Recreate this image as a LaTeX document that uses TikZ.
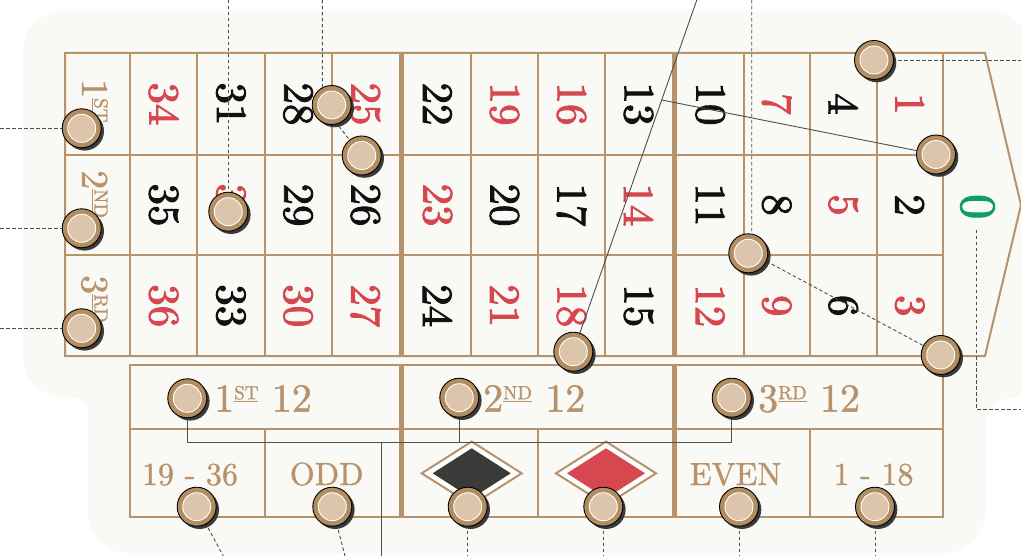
\documentclass[tikz,border=0pt]{standalone}
\usepackage{fontspec}
\newfontfamily\numff{lmroman10-regular.otf}[FakeBold=2.2]
\newfontfamily\lblff{lmroman10-regular.otf}[FakeBold=1.1]
\usetikzlibrary{shadows,calc}
\definecolor{bgc}{HTML}{F9F9F5}
\definecolor{tanc}{HTML}{B8926A}
\definecolor{rd}{HTML}{D6474F}
\definecolor{bk}{HTML}{111111}
\definecolor{grn}{HTML}{0E9E63}
\definecolor{chipring}{HTML}{B38D62}
\definecolor{chipin}{HTML}{DCC5AA}
\definecolor{shad}{HTML}{303030}
\definecolor{lnc}{HTML}{4F4F4F}
\definecolor{diablk}{HTML}{3A3A38}
\pgfdeclarelayer{lines}\pgfdeclarelayer{chips}
\pgfsetlayers{main,lines,chips}
\newcommand{\supul}[1]{\raisebox{12.5pt}{\fontsize{19}{19}\selectfont\setbox0\hbox{#1}\rlap{\rule[-2.6pt]{\wd0}{0.9pt}}\box0}}
\begin{document}
\begin{tikzpicture}[x=1pt,y=-1pt,
  chip/.style={circle,minimum size=39pt,inner sep=0pt,fill=chipring,draw=black,line width=0.9pt,
    drop shadow={shadow xshift=2.8pt,shadow yshift=-2.8pt,fill=shad,opacity=0.95},
    path picture={\fill[chipin,draw=white,line width=0.9pt] (path picture bounding box.center) circle[radius=14pt];}},
  gridln/.style={draw=tanc,line width=2pt},
  thickln/.style={draw=tanc,line width=5pt},
  numtxt/.style={rotate=-90,font=\numff\fontsize{43}{43}\selectfont,inner sep=0pt},
  sidelbl/.style={rotate=-90,anchor=base west,text=tanc,font=\lblff\fontsize{38}{38}\selectfont,inner sep=0pt},
  dozlbl/.style={anchor=base west,text=tanc,font=\lblff\fontsize{40}{40}\selectfont,inner sep=0pt},
  betlbl/.style={anchor=base,text=tanc,font=\lblff\fontsize{32}{32}\selectfont,inner sep=0pt},
  dashln/.style={draw=lnc,line width=0.9pt,dash pattern=on 3.5pt off 2.5pt},
  leadln/.style={draw=lnc,line width=0.9pt},
]
\useasboundingbox (0,0) rectangle (1021,556);
\fill[white] (0,0) rectangle (1021,556);
% background
\fill[bgc] (63,11) -- (990,11) arc[start angle=-90,end angle=0,radius=40] -- (1030,397) -- (1015,397)
  arc[start angle=-90,end angle=-180,radius=30] -- (985,513) arc[start angle=0,end angle=90,radius=40]
  -- (128,553) arc[start angle=90,end angle=180,radius=40] -- (88,412)
  arc[start angle=0,end angle=-90,radius=15] -- (63,397) arc[start angle=90,end angle=180,radius=40]
  -- (23,51) arc[start angle=180,end angle=270,radius=40] -- cycle;
% top grid
\draw[gridln,line join=miter] (65,53) -- (985,53) -- (1021,205) -- (985,356) -- (65,356) -- cycle;
\foreach \yy in {155,255} \draw[gridln] (65,\yy) -- (943,\yy);
\foreach \xx in {130,197.25,264.5,331.75,471,538,605,743.5,810,876.5,943} \draw[gridln] (\xx,53) -- (\xx,356);
\foreach \xx in {401.5,674.5} \draw[thickln] (\xx,53) -- (\xx,356);
% bottom grid
\draw[gridln] (130,365) rectangle (943,517);
\draw[gridln] (130,429) -- (943,429);
\foreach \xx in {264.5,538,809.5} \draw[gridln] (\xx,429) -- (\xx,517);
\foreach \xx in {401.5,674.5} \draw[thickln] (\xx,365) -- (\xx,517);
% numbers
\foreach \num/\cl [count=\ci from 0] in {34/rd,31/bk,28/bk,25/rd,22/bk,19/rd,16/rd,13/bk,10/bk,7/rd,4/bk,1/rd} {
  \pgfmathsetmacro\xc{{163.6,230.9,298.1,365.4,437.5,504.5,571.5,638.5,710.25,776.75,843.25,909.75}[\ci]}
  \node[numtxt,text=\cl] (n\num) at (\xc,104) {\num};}
\foreach \num/\cl [count=\ci from 0] in {35/bk,32/rd,29/bk,26/bk,23/rd,20/bk,17/bk,14/rd,11/bk,8/bk,5/rd,2/bk} {
  \pgfmathsetmacro\xc{{163.6,230.9,298.1,365.4,437.5,504.5,571.5,638.5,710.25,776.75,843.25,909.75}[\ci]}
  \node[numtxt,text=\cl] (n\num) at (\xc,205) {\num};}
\foreach \num/\cl [count=\ci from 0] in {36/rd,33/bk,30/rd,27/rd,24/bk,21/rd,18/rd,15/bk,12/rd,9/rd,6/bk,3/rd} {
  \pgfmathsetmacro\xc{{163.6,230.9,298.1,365.4,437.5,504.5,571.5,638.5,710.25,776.75,843.25,909.75}[\ci]}
  \node[numtxt,text=\cl] (n\num) at (\xc,305.75) {\num};}
\node[rotate=-90,text=grn,font=\numff\fontsize{50}{50}\selectfont,inner sep=0pt] (n0) at (977.5,206.7) {0};
% side labels
\node[sidelbl] (s1) at (82,79) {1\supul{ST}};
\node[sidelbl] (s2) at (82,170) {2\supul{ND}};
\node[sidelbl] (s3) at (82,275) {3\supul{RD}};
% dozens
\node[dozlbl] (d1) at (214,411.7) {1\supul{ST}\ 12};
\node[dozlbl] (d2) at (483,411.7) {2\supul{ND}\ 12};
\node[dozlbl] (d3) at (758,411.7) {3\supul{RD}\ 12};
% even money
\node[betlbl] (b1) at (190,485) {19 - 36};
\node[betlbl] (b2) at (326.7,485) {ODD};
\node[betlbl] (b3) at (735.6,485) {EVEN};
\node[betlbl] (b4) at (873.5,485) {1 - 18};
% diamonds
\draw[tanc,line width=2pt,fill=white] (421.7,473.3) -- (471.7,441.6) -- (521.7,473.3) -- (471.7,505) -- cycle;
\fill[diablk] (432.7,473.3) -- (471.7,448.3) -- (510.7,473.3) -- (471.7,498.3) -- cycle;
\draw[tanc,line width=2pt,fill=white] (556,473.3) -- (606,441.6) -- (656,473.3) -- (606,505) -- cycle;
\fill[rd] (567,473.3) -- (606,448.3) -- (645,473.3) -- (606,498.3) -- cycle;
% chips
\begin{pgfonlayer}{chips}
\foreach \nm/\px/\py in {c1/81.7/128.3,c2/81.7/228.3,c3/81.7/328.3,c4/228.3/211.7,c5/331.7/105,
  c6/361.7/155.5,c7/573.3/351.7,c8/874/60,c9/936/154.5,c10/748.3/253.3,c11/940.7/355,
  c12/187.3/398.3,c13/459.3/397.7,c14/731.7/397.7,c15/196.7/506.7,c16/332.3/506.7,
  c17/467.7/506.7,c18/603.3/506.7,c19/739/506.7,c20/875/506.7}
  \node[chip] (\nm) at (\px,\py) {};
\end{pgfonlayer}
% connectors
\begin{pgfonlayer}{lines}
\coordinate (e1) at (0,128.3); \draw[dashln] (e1) -- (c1.center);
\coordinate (e2) at (0,228.3); \draw[dashln] (e2) -- (c2.center);
\coordinate (e3) at (0,328.3); \draw[dashln] (e3) -- (c3.center);
\coordinate (e4) at (228.3,0); \draw[dashln] (e4) -- (c4.center);
\coordinate (e5) at (322.3,0); \coordinate (k5) at (322.3,105);
\draw[dashln] (e5) -- (k5) -- (c6.center);
\coordinate (e7) at (696.8,0); \draw[leadln] (c7.center) -- (e7);
\coordinate (j9) at ($(c7.center)!0.7157!(e7)$); \draw[leadln] (c9.center) -- (j9);
\coordinate (e8) at (1021,60); \draw[dashln] (c8.center) -- (e8);
\coordinate (e10) at (751.7,0); \coordinate (k10) at (751.7,253.3);
\draw[dashln] (e10) -- (k10) -- (c11.center);
\coordinate (z1) at (976.7,230); \coordinate (z2) at (976.7,409.3); \coordinate (z3) at (1021,409.3);
\draw[dashln] (z1) -- (z2) -- (z3);
\coordinate (bus) at (381.7,442.7); \coordinate (busend) at (381.7,556);
\draw[leadln] (c12.center) -- (c12.center |- bus) -- (c14.center |- bus) -- (c14.center);
\draw[leadln] (c13.center) -- (c13.center |- bus);
\draw[leadln] (bus) -- (busend);
\coordinate (f15) at (223.3,556); \draw[dashln] (c15.center) -- (f15);
\coordinate (f16) at (345,556); \draw[dashln] (c16.center) -- (f16);
\foreach \nm in {c17,c18,c19,c20} {\draw[dashln] (\nm.center) -- (\nm.center |- busend);}
\end{pgfonlayer}
\end{tikzpicture}
\end{document}
